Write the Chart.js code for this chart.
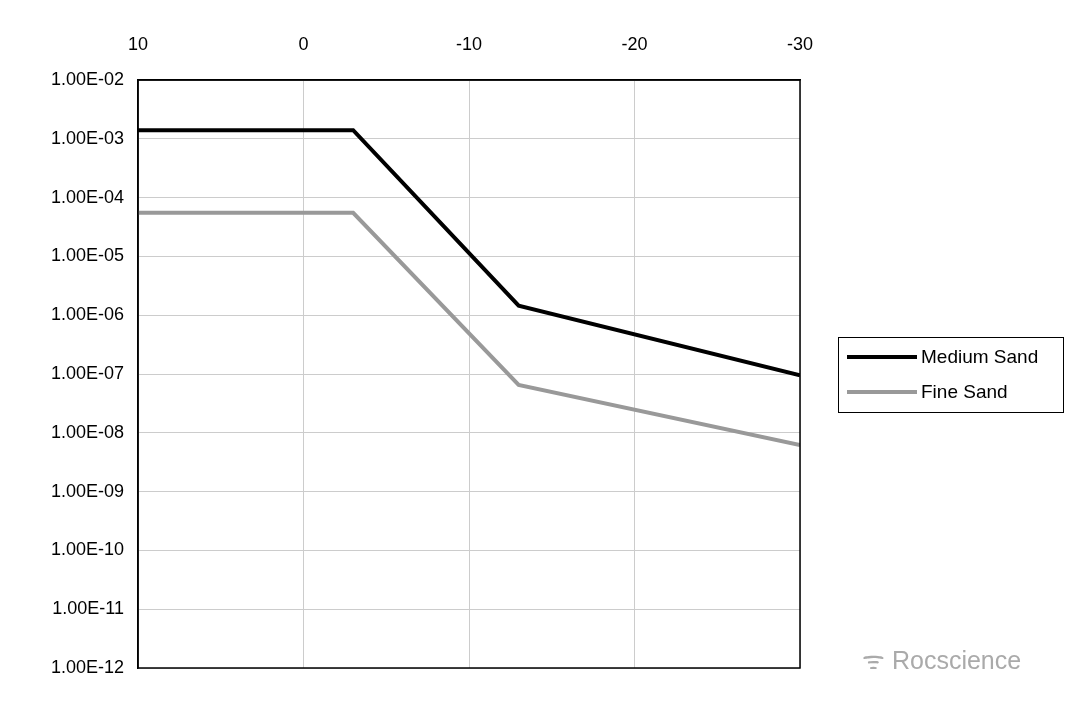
<!DOCTYPE html>
<html>
<head>
<meta charset="utf-8">
<script src="https://cdn.jsdelivr.net/npm/chart.js@4"></script>
<style>
  body { margin: 0; background: #fff; }
  #wrap { position: relative; width: 1080px; height: 701px; }
  #legend { position: absolute; left: 838px; top: 337px; width: 224px; height: 74px;
    border: 1.5px solid #000; font-family: Arial, "Liberation Sans", sans-serif; font-size: 19px; }
  .row { position: absolute; left: 8px; display: flex; align-items: center; }
  .sw { width: 70px; height: 4px; margin-right: 4px; }
  #mark { position: absolute; left: 862px; top: 642px; font-family: Arial, "Liberation Sans", sans-serif;
    font-size: 25px; color: #aaa; }
</style>
</head>
<body>
<div id="wrap">
  <canvas id="chart" width="1080" height="701"></canvas>
  <div id="legend">
    <div class="row" style="top:8px"><div class="sw" style="background:#000"></div>Medium Sand</div>
    <div class="row" style="top:43px"><div class="sw" style="background:#999"></div>Fine Sand</div>
  </div>
  <div id="mark">ᯤ Rocscience</div>
</div>
<script>
const temps = [10, -3, -13, -30];
const mediumSand = [1.4e-3, 1.4e-3, 1.45e-6, 9.5e-8];
const fineSand = [5.5e-5, 5.5e-5, 6.5e-8, 6.2e-9];
const xTicks = [10, 0, -10, -20, -30];

const toPts = (ys) => temps.map((t, i) => ({ x: t, y: ys[i] }));

// full black frame around the plot area
const frame = {
    id: 'frame',
    afterDraw(chart) {
        const { ctx, chartArea: a } = chart;
        ctx.save();
        ctx.strokeStyle = '#000';
        ctx.lineWidth = 1.5;
        ctx.strokeRect(a.left, a.top, a.right - a.left, a.bottom - a.top);
        ctx.restore();
    }
};

new Chart(document.getElementById('chart'), {
    type: 'line',
    data: {
        datasets: [
            { label: 'Medium Sand', data: toPts(mediumSand), borderColor: '#000', borderWidth: 4, pointRadius: 0, tension: 0 },
            { label: 'Fine Sand', data: toPts(fineSand), borderColor: '#999', borderWidth: 4, pointRadius: 0, tension: 0 }
        ]
    },
    plugins: [frame],
    options: {
        responsive: false,
        animation: false,
        layout: { padding: { left: 0, right: 280, top: 32, bottom: 33 } },
        plugins: { legend: { display: false }, tooltip: { enabled: false } },
        scales: {
            x: {
                type: 'linear', position: 'top', reverse: true, min: -30, max: 10,
                afterBuildTicks: (axis) => { axis.ticks = xTicks.map(v => ({ value: v })); },
                afterFit: (axis) => { axis.height = 48; },
                grid: { color: '#ccc', drawTicks: false },
                border: { color: '#000', width: 1.5 },
                ticks: { color: '#000', padding: 24, font: { family: 'Arial, Liberation Sans', size: 18 } }
            },
            y: {
                type: 'logarithmic', min: 1e-12, max: 1e-2,
                afterBuildTicks: (axis) => {
                    const t = [];
                    for (let e = -12; e <= -2; e++) t.push({ value: Math.pow(10, e) });
                    axis.ticks = t;
                },
                afterFit: (axis) => { axis.width = 138; },
                grid: { color: '#ccc', drawTicks: false },
                border: { color: '#000', width: 1.5 },
                ticks: {
                    color: '#000', padding: 14, font: { family: 'Arial, Liberation Sans', size: 18 },
                    callback: (v) => '1.00E-' + String(-Math.round(Math.log10(v))).padStart(2, '0')
                }
            }
        }
    }
});
</script>
</body>
</html>
